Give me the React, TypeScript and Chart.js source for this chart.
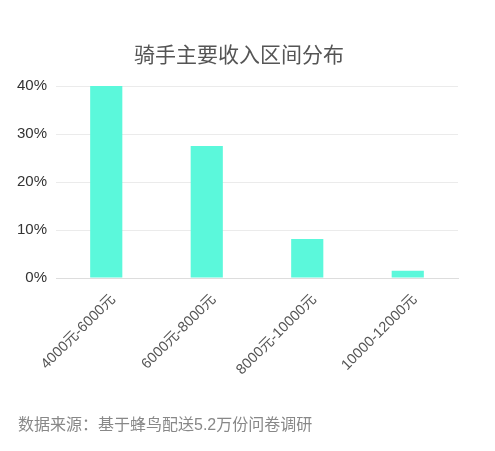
import { useEffect, useRef } from "react";
import { Chart, registerables } from "chart.js";

Chart.register(...registerables);

const CATEGORIES = ["4000元-6000元", "6000元-8000元", "8000元-10000元", "10000-12000元"];
const SHARE = [40, 27.5, 8.1, 1.5];
const Y_TICKS = [0, 10, 20, 30, 40];

const FONT = "'Liberation Sans', 'Noto Sans CJK SC', sans-serif";

export default function App() {
  const canvasRef = useRef<HTMLCanvasElement>(null);

  useEffect(() => {
    if (!canvasRef.current) return;
    const chart = new Chart(canvasRef.current, {
      type: "bar",
      data: {
        labels: CATEGORIES,
        datasets: [
          {
            data: SHARE,
            backgroundColor: "#5BF8DB",
            borderWidth: 0,
            barPercentage: 0.32,
            categoryPercentage: 1,
          },
        ],
      },
      options: {
        responsive: false,
        animation: false,
        layout: { padding: { top: 86, right: 37, bottom: 0, left: 0 } },
        plugins: {
          legend: { display: false },
          tooltip: { enabled: false },
        },
        scales: {
          x: {
            grid: { display: false },
            border: { display: true, color: "#DDDDDD" },
            ticks: {
              minRotation: 45,
              maxRotation: 45,
              padding: 5,
              labelOffset: 7,
              color: "#555555",
              font: { size: 14.5, family: FONT },
            },
            afterFit: (scale) => {
              scale.height = 173;
            },
          },
          y: {
            min: Y_TICKS[0],
            max: Y_TICKS[Y_TICKS.length - 1],
            afterBuildTicks: (scale) => {
              scale.ticks = Y_TICKS.map((v) => ({ value: v }));
            },
            grid: { color: "#EBEBEB", drawTicks: false },
            border: { display: false },
            ticks: {
              padding: 9,
              color: "#333333",
              font: { size: 15, family: FONT },
              callback: (v) => v + "%",
            },
            afterFit: (scale) => {
              scale.width = 56;
            },
          },
        },
      },
    });
    return () => chart.destroy();
  }, []);

  return (
    <div
      style={{
        position: "absolute",
        left: 0,
        top: 0,
        width: 495,
        height: 451,
        background: "#fff",
        fontFamily: FONT,
      }}
    >
      <canvas
        ref={canvasRef}
        width={495}
        height={451}
        style={{ position: "absolute", left: 0, top: 0, width: 495, height: 451 }}
      />
      <div
        style={{
          position: "absolute",
          left: 0,
          top: 43,
          width: 478,
          textAlign: "center",
          fontSize: 21,
          lineHeight: "24px",
          color: "#555555",
        }}
      >
        骑手主要收入区间分布
      </div>
      <div
        style={{
          position: "absolute",
          left: 18,
          top: 415,
          fontSize: 16,
          lineHeight: "20px",
          color: "#888888",
        }}
      >
        数据来源：基于蜂鸟配送5.2万份问卷调研
      </div>
    </div>
  );
}
